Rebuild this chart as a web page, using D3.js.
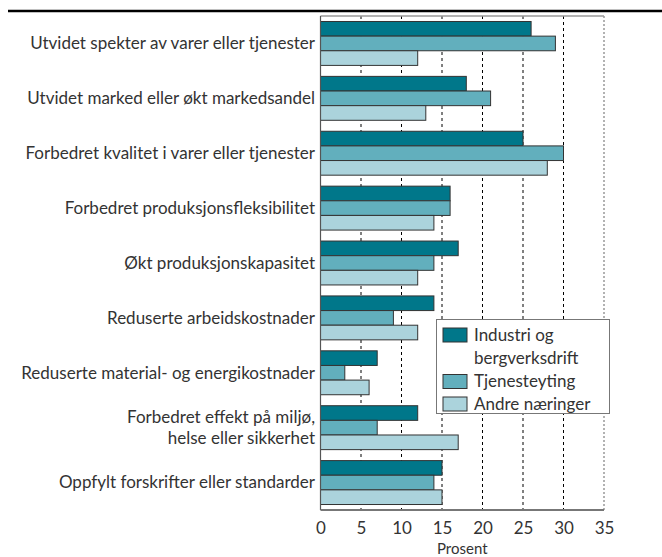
<!DOCTYPE html>
<html>
<head>
<meta charset="utf-8">
<script src="https://cdn.jsdelivr.net/npm/d3@7"></script>
<style>
body{margin:0;background:#fff;}
text{font-family:Lato,"Open Sans",sans-serif;fill:#333;}
</style>
</head>
<body>
<svg id="chart" width="662" height="557"></svg>
<script>
// kategorier (ovenfra og ned)
var categories = [
	["Utvidet spekter av varer eller tjenester"],
	["Utvidet marked eller økt markedsandel"],
	["Forbedret kvalitet i varer eller tjenester"],
	["Forbedret produksjonsfleksibilitet"],
	["Økt produksjonskapasitet"],
	["Reduserte arbeidskostnader"],
	["Reduserte material- og energikostnader"],
	["Forbedret effekt på miljø,","helse eller sikkerhet"],
	["Oppfylt forskrifter eller standarder"]
];
var seriesNames = ["Industri og bergverksdrift","Tjenesteyting","Andre næringer"];
var legendLines = [["Industri og","bergverksdrift"],["Tjenesteyting"],["Andre næringer"]];
var industri   = [26,18,25,16,17,14,7,12,15];
var tjeneste   = [29,21,30,16,14,9,3,7,14];
var andre      = [12,13,28,14,12,12,6,17,15];
var xTicks = [0,5,10,15,20,25,30,35];
var colors = ["#00778a","#62afbd","#abd3dc"];

var series = [industri,tjeneste,andre];
var svg = d3.select("#chart");

var x = d3.scaleLinear().domain([0,35]).range([320.5,604]);
var y = d3.scaleBand().domain(d3.range(categories.length)).range([16,510])
	.paddingInner(0.2).paddingOuter(0.1);
var ySub = d3.scaleBand().domain(d3.range(series.length)).range([0,y.bandwidth()]);

//svart linje øverst
svg.append("line").attr("x1",8).attr("x2",662).attr("y1",11).attr("y2",11)
	.attr("stroke","#000").attr("stroke-width",2.5);

//rutenett
svg.append("g").selectAll("line").data(xTicks.slice(1,-1)).enter().append("line")
	.attr("x1",function(d){return x(d);}).attr("x2",function(d){return x(d);})
	.attr("y1",16).attr("y2",510)
	.attr("stroke","#000").attr("stroke-width",1).attr("stroke-dasharray","3,3");
//ramme høyre og topp
svg.append("line").attr("x1",x(35)).attr("x2",x(35)).attr("y1",16).attr("y2",510)
	.attr("stroke","#999").attr("stroke-width",1.5).attr("stroke-dasharray","2,2");
svg.append("line").attr("x1",x(0)).attr("x2",x(35)).attr("y1",16).attr("y2",16)
	.attr("stroke","#999").attr("stroke-width",1.5);

//stolper
var groups = svg.append("g").selectAll("g").data(categories).enter().append("g")
	.attr("transform",function(d,i){return "translate(0,"+y(i)+")";});
groups.selectAll("rect").data(function(d,i){
		return series.map(function(s,k){return {k:k,v:s[i]};});
	}).enter().append("rect")
	.attr("x",x(0))
	.attr("y",function(d){return ySub(d.k);})
	.attr("width",function(d){return x(d.v)-x(0);})
	.attr("height",ySub.bandwidth())
	.attr("fill",function(d){return colors[d.k];})
	.attr("stroke","#333").attr("stroke-width",1);

//akser
svg.append("line").attr("x1",x(0)).attr("x2",x(0)).attr("y1",16).attr("y2",510)
	.attr("stroke","#555").attr("stroke-width",1.2);
svg.append("line").attr("x1",x(0)).attr("x2",x(35)).attr("y1",510).attr("y2",510)
	.attr("stroke","#777").attr("stroke-width",2);

var xAxis = svg.append("g").attr("transform","translate(0,510)")
	.call(d3.axisBottom(x).tickValues(xTicks).tickSize(0).tickPadding(12));
xAxis.select(".domain").remove();
xAxis.selectAll("text").style("font-size","17px").style("font-family","Lato,sans-serif").attr("fill","#333");

svg.append("text").attr("x",x(17.5)).attr("y",553.5).attr("text-anchor","middle")
	.style("font-size","15px").text("Prosent");

//kategorinavn
groups.append("text")
	.attr("x",315).attr("text-anchor","end")
	.style("font-size","17px")
	.each(function(d){
		var t = d3.select(this);
		var mid = y.bandwidth()/2;
		d.forEach(function(line,j){
			t.append("tspan").attr("x",315)
				.attr("y",mid+(j-(d.length-1)/2)*20.5)
				.attr("dy","0.35em").text(line);
		});
	});

//forklaring
var lg = svg.append("g");
lg.append("rect").attr("x",436.5).attr("y",319.5).attr("width",173).attr("height",94)
	.attr("fill","#fff").attr("stroke","#777").attr("stroke-width",1);
var rowY = [335,381.5,404];
legendLines.forEach(function(lines,k){
	lg.append("rect").attr("x",443).attr("y",rowY[k]-7).attr("width",24).attr("height",14)
		.attr("fill",colors[k]).attr("stroke","#333").attr("stroke-width",1);
	lines.forEach(function(line,j){
		lg.append("text").attr("x",474).attr("y",rowY[k]+j*23).attr("dy","0.35em")
			.style("font-size","17px").text(line);
	});
});
</script>
</body>
</html>
